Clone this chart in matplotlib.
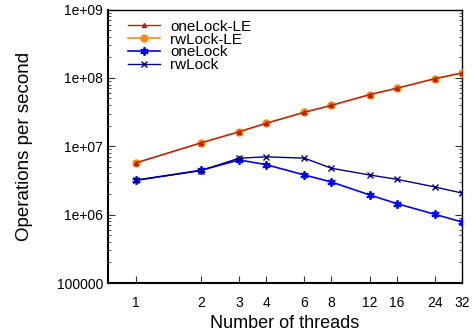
import matplotlib
matplotlib.use("Agg")
import matplotlib.pyplot as plt
from matplotlib.ticker import FixedLocator, NullFormatter, LogLocator, FixedFormatter

plt.rcParams['font.family'] = ['Liberation Sans', 'DejaVu Sans']

threads = [1, 2, 3, 4, 6, 8, 12, 16, 24, 32]
oneLock_LE = [5.7e6, 1.12e7, 1.63e7, 2.17e7, 3.14e7, 3.97e7, 5.69e7, 7.05e7, 9.74e7, 1.18e8]
rwLock_LE = [5.7e6, 1.12e7, 1.63e7, 2.17e7, 3.14e7, 3.97e7, 5.69e7, 7.05e7, 9.74e7, 1.18e8]
oneLock = [3.18e6, 4.46e6, 6.3e6, 5.38e6, 3.8e6, 3.0e6, 1.94e6, 1.45e6, 1.01e6, 7.8e5]
rwLock = [3.18e6, 4.4e6, 6.7e6, 7.0e6, 6.7e6, 4.77e6, 3.8e6, 3.29e6, 2.54e6, 2.07e6]
xtick_labels = ['1', '2', '3', '4', '6', '8', '12', '16', '24', '32']
ytick_vals = [1e5, 1e6, 1e7, 1e8, 1e9]
ytick_labels = ['100000', '1e+06', '1e+07', '1e+08', '1e+09']

fig = plt.figure(figsize=(4.73, 3.35), dpi=100)
ax = fig.add_axes([0.2283, 0.1552, 0.9767 - 0.2283, 0.9716 - 0.1552])

ax.plot(threads, rwLock_LE, color='#ff8c00', marker='o', markersize=5, lw=1.2, label='rwLock-LE', zorder=3)
ax.plot(threads, oneLock_LE, color='#b22222', marker='^', markersize=3, lw=1.0, label='oneLock-LE', zorder=4)
ax.plot(threads, oneLock, color='#0000ff', marker=(6, 2, 0), markersize=6, mew=1.3, lw=1.2, label='oneLock', zorder=3)
ax.plot(threads, rwLock, color='#000080', marker='x', markersize=5, mew=1.0, lw=1.0, label='rwLock', zorder=3)

ax.set_xscale('log')
ax.set_yscale('log')
ax.set_xlim(0.745, 32)
ax.set_ylim(1e5, 1e9)

ax.xaxis.set_major_locator(FixedLocator(threads))
ax.xaxis.set_major_formatter(FixedFormatter(xtick_labels))
ax.xaxis.set_minor_locator(FixedLocator([]))
ax.yaxis.set_major_locator(FixedLocator(ytick_vals))
ax.yaxis.set_major_formatter(FixedFormatter(ytick_labels))
ax.yaxis.set_minor_locator(LogLocator(base=10, subs=range(2, 10)))
ax.yaxis.set_minor_formatter(NullFormatter())

ax.tick_params(axis='both', which='both', direction='in', labelsize=10, colors='#333333', labelcolor='black')
ax.tick_params(axis='y', which='both', right=True, left=True)
ax.tick_params(axis='y', which='major', length=5)
ax.tick_params(axis='y', which='minor', length=2.5)
ax.tick_params(axis='x', which='major', length=5, pad=9)
for s in ax.spines.values():
    s.set_linewidth(1.0)
ax.spines['left'].set_linewidth(1.5)
ax.spines['bottom'].set_linewidth(1.5)

ax.set_xlabel('Number of threads', fontsize=13, labelpad=4)
ax.set_ylabel('Operations per second', fontsize=13.5, labelpad=17)

h, l = ax.get_legend_handles_labels()
order = [1, 0, 2, 3]
ax.legend([h[i] for i in order], [l[i] for i in order], loc='upper left', frameon=False,
          fontsize=11, handlelength=2.1, handletextpad=0.65, labelspacing=-0.08,
          borderaxespad=0.0, bbox_to_anchor=(0.04, 0.985))

fig.savefig('out.png', dpi=100)
